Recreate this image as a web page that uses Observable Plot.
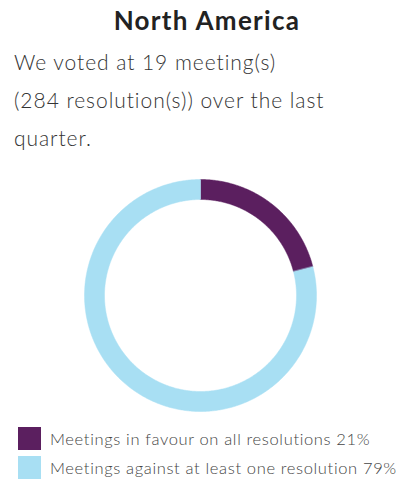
<!DOCTYPE html>
<html>
<head>
<meta charset="utf-8">
<script src="https://cdn.jsdelivr.net/npm/d3@7"></script>
<script src="https://cdn.jsdelivr.net/npm/@observablehq/plot@0.6"></script>
<style>
  html, body { margin: 0; padding: 0; background: #fff; width: 400px; height: 482px; overflow: hidden; position: relative; }
  #title { position: absolute; left: 0; top: 4px; width: 414px; text-align: center; font-family: Lato, sans-serif; font-weight: 700; font-size: 26px; letter-spacing: 1.3px; color: #222; }
  #sub { position: absolute; left: 14px; top: 43px; width: 386px; font-family: Lato, sans-serif; font-weight: 300; font-size: 21px; line-height: 38px; letter-spacing: 0.95px; color: #333; }
  #chart { position: absolute; left: 0; top: 170px; }
  #legend { position: absolute; left: 18px; top: 427px; font-family: Lato, sans-serif; font-weight: 300; font-size: 16.5px; letter-spacing: 0.65px; color: #444; white-space: nowrap; }
  .item { display: flex; align-items: center; height: 23px; margin-bottom: 6px; }
  .sw { width: 23px; height: 23px; margin-right: 9px; flex: none; }
</style>
</head>
<body>
<div id="title"></div>
<div id="sub"></div>
<div id="chart"></div>
<div id="legend"></div>
<script>
const title = "North America";
const subtitleLines = ["We voted at 19 meeting(s)", "(284 resolution(s)) over the last", "quarter."];
const categories = ["Meetings in favour on all resolutions", "Meetings against at least one resolution"];
const values = [21, 79];
const colors = ["#5b1f5f", "#a8dff3"];

document.getElementById("title").textContent = title;
const sub = document.getElementById("sub");
subtitleLines.forEach((l, i) => {
  if (i) sub.appendChild(document.createElement("br"));
  sub.appendChild(document.createTextNode(l));
});

const outerR = 116, innerR = 96;
const arcs = d3.pie().sort(null).value(d => d.value)(categories.map((c, i) => ({category: c, value: values[i]})));
const pts = [];
arcs.forEach((a) => {
  const n = Math.max(2, Math.ceil((a.endAngle - a.startAngle) / 0.01));
  for (let k = 0; k <= n; k++) {
    const t = a.startAngle + (a.endAngle - a.startAngle) * k / n;
    pts.push({k: a.data.category, x: outerR * Math.sin(t), y: outerR * Math.cos(t)});
  }
  for (let k = n; k >= 0; k--) {
    const t = a.startAngle + (a.endAngle - a.startAngle) * k / n;
    pts.push({k: a.data.category, x: innerR * Math.sin(t), y: innerR * Math.cos(t)});
  }
});

const plot = Plot.plot({
  width: 400,
  height: 250,
  margin: 0,
  x: {domain: [-200, 200], axis: null},
  y: {domain: [-125, 125], axis: null},
  color: {domain: categories, range: colors},
  marks: [
    Plot.line(pts, {x: "x", y: "y", z: "k", fill: "k", stroke: "k", strokeWidth: 0.5, curve: "linear-closed"})
  ]
});
document.getElementById("chart").appendChild(plot);

const legend = document.getElementById("legend");
categories.forEach((c, i) => {
  const row = document.createElement("div");
  row.className = "item";
  const sw = document.createElement("div");
  sw.className = "sw";
  sw.style.background = colors[i];
  const lab = document.createElement("span");
  lab.textContent = `${c} ${values[i]}%`;
  row.appendChild(sw); row.appendChild(lab);
  legend.appendChild(row);
});
</script>
</body>
</html>
